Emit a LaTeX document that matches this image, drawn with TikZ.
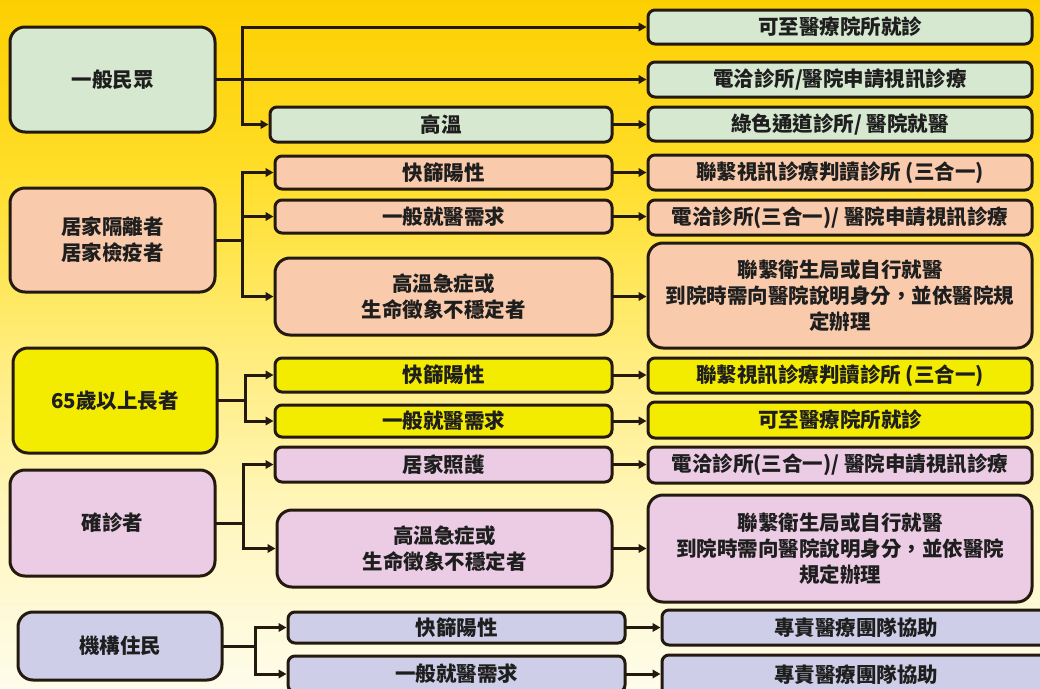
\documentclass[tikz,border=0pt]{standalone}
\usepackage{fontspec}
\setmainfont{Noto Sans CJK TC}
\usetikzlibrary{arrows.meta}
\definecolor{cG}{RGB}{214,232,208}
\definecolor{cP}{RGB}{249,203,172}
\definecolor{cY}{RGB}{243,236,0}
\definecolor{cK}{RGB}{235,204,228}
\definecolor{cL}{RGB}{206,206,233}
\definecolor{cE}{RGB}{35,25,15}
\definecolor{cT}{RGB}{30,30,30}
\definecolor{bgA}{RGB}{252,207,0}
\definecolor{bgB}{RGB}{255,222,40}
\definecolor{bgC}{RGB}{255,236,120}
\definecolor{bgD}{RGB}{255,246,190}
\definecolor{bgE}{RGB}{254,252,235}
\pgfdeclareverticalshading{bgshade}{100bp}{color(0bp)=(bgE); color(25bp)=(bgE); color(37.5bp)=(bgD); color(50bp)=(bgC); color(62.5bp)=(bgB); color(75bp)=(bgA); color(100bp)=(bgA)}
\newcommand\fsz{\fontsize{20.5}{26}\selectfont\bfseries}
\begin{document}
\begin{tikzpicture}[x=1pt,y=-1pt,
  box/.style={draw=cE, line width=3pt, rounded corners=7pt, text=cT, font=\fsz, align=center, inner sep=0pt, anchor=center},
  big/.style={box, rounded corners=15pt},
  conn/.style={draw=cE, line width=3pt, line cap=rect},
  arr/.style={conn, -{Triangle[length=8pt,width=8.5pt]}}]
\useasboundingbox (0,0) rectangle (1040,688);
\clip (0,0) rectangle (1040,688);
\shade[shading=bgshade] (0,0) rectangle (1040,688);

% left boxes
\node[big, fill=cG, minimum width=205pt, minimum height=105pt] (L1) at (112.5,79.5) {一般民眾};
\node[big, fill=cP, minimum width=205pt, minimum height=104pt] (L2) at (112.5,240) {居家隔離者\\居家檢疫者};
\node[big, fill=cY, minimum width=204pt, minimum height=105pt] (L3) at (115,400.5) {65歲以上長者};
\node[big, fill=cK, minimum width=205pt, minimum height=106pt] (L4) at (112.5,523) {確診者};
\node[big, fill=cL, minimum width=204pt, minimum height=68pt] (L5) at (120,646) {機構住民};

% middle boxes
\node[box, fill=cG, minimum width=342pt, minimum height=35pt] (M1) at (441,124.5) {高溫};
\node[box, fill=cP, minimum width=337pt, minimum height=33pt] (M2) at (443.5,172.5) {快篩陽性};
\node[box, fill=cP, minimum width=337pt, minimum height=33pt] (M3) at (443.5,216.5) {一般就醫需求};
\node[big, fill=cP, minimum width=337pt, minimum height=77pt] (M4) at (443.5,296.5) {高溫急症或\\生命徵象不穩定者};
\node[box, fill=cY, minimum width=337pt, minimum height=34pt] (M5) at (443.5,375) {快篩陽性};
\node[box, fill=cY, minimum width=337pt, minimum height=32pt] (M6) at (443.5,421) {一般就醫需求};
\node[box, fill=cK, minimum width=337pt, minimum height=35pt] (M7) at (443.5,464.5) {居家照護};
\node[big, fill=cK, minimum width=335pt, minimum height=77pt] (M8) at (444.5,548.5) {高溫急症或\\生命徵象不穩定者};
\node[box, fill=cL, minimum width=337pt, minimum height=31pt] (M9) at (456.5,627.5) {快篩陽性};
\node[box, fill=cL, minimum width=337pt, minimum height=36pt] (M10) at (456.5,674) {一般就醫需求};

% right boxes
\node[box, fill=cG, minimum width=384pt, minimum height=34pt] (R1) at (840,27) {可至醫療院所就診};
\node[box, fill=cG, minimum width=384pt, minimum height=35pt] (R2) at (840,79.5) {電洽診所/醫院申請視訊診療};
\node[box, fill=cG, minimum width=384pt, minimum height=34pt] (R3) at (840,124) {綠色通道診所/ 醫院就醫};
\node[box, fill=cP, minimum width=384pt, minimum height=35pt] (R4) at (840,172.5) {聯繫視訊診療判讀診所 (三合一)};
\node[box, fill=cP, minimum width=384pt, minimum height=35pt] (R5) at (840,217.5) {電洽診所(三合一)/ 醫院申請視訊診療};
\node[big, fill=cP, minimum width=384pt, minimum height=105pt] (R6) at (840,295.5) {聯繫衛生局或自行就醫\\到院時需向醫院說明身分，並依醫院規\\定辦理};
\node[box, fill=cY, minimum width=384pt, minimum height=35pt] (R7) at (840,375.5) {聯繫視訊診療判讀診所 (三合一)};
\node[box, fill=cY, minimum width=384pt, minimum height=36pt] (R8) at (840,420) {可至醫療院所就診};
\node[box, fill=cK, minimum width=384pt, minimum height=36pt] (R9) at (840,465) {電洽診所(三合一)/ 醫院申請視訊診療};
\node[big, fill=cK, minimum width=384pt, minimum height=107pt] (R10) at (840,548.5) {聯繫衛生局或自行就醫\\到院時需向醫院說明身分，並依醫院\\規定辦理};
\node[box, fill=cL, minimum width=388pt, minimum height=35pt] (R11) at (856,627.5) {專責醫療團隊協助};
\node[box, fill=cL, minimum width=388pt, minimum height=40pt] (R12) at (856,675) {專責醫療團隊協助};

% branch points
\coordinate (b1) at (242,79.5);
\coordinate (b2) at (242,240);
\coordinate (b3) at (245,400.5);
\coordinate (b4) at (243,523);
\coordinate (b5) at (255,646);

% connectors: 一般民眾
\draw[arr] (L1.east) -- (R2.west);
\draw[arr] (b1) |- (R1.west);
\draw[arr] (b1) |- (M1.west);
\draw[arr] (M1.east) -- (M1.east -| R3.west);
% 居家隔離者
\draw[conn] (L2.east) -- (b2);
\draw[arr] (b2) |- (M2.west);
\draw[arr] (b2) |- (M3.west);
\draw[arr] (b2) |- (M4.west);
\draw[arr] (M2.east) -- (M2.east -| R4.west);
\draw[arr] (M3.east) -- (M3.east -| R5.west);
\draw[arr] (M4.east) -- (M4.east -| R6.west);
% 65歲以上長者
\draw[conn] (L3.east) -- (b3);
\draw[arr] (b3) |- (M5.west);
\draw[arr] (b3) |- (M6.west);
\draw[arr] (M5.east) -- (M5.east -| R7.west);
\draw[arr] (M6.east) -- (M6.east -| R8.west);
% 確診者
\draw[conn] (L4.east) -- (b4);
\draw[arr] (b4) |- (M7.west);
\draw[arr] (b4) |- (M8.west);
\draw[arr] (M7.east) -- (M7.east -| R9.west);
\draw[arr] (M8.east) -- (M8.east -| R10.west);
% 機構住民
\draw[conn] (L5.east) -- (b5);
\draw[arr] (b5) |- (M9.west);
\draw[arr] (b5) |- (M10.west);
\draw[arr] (M9.east) -- (M9.east -| R11.west);
\draw[arr] (M10.east) -- (M10.east -| R12.west);
\end{tikzpicture}
\end{document}
